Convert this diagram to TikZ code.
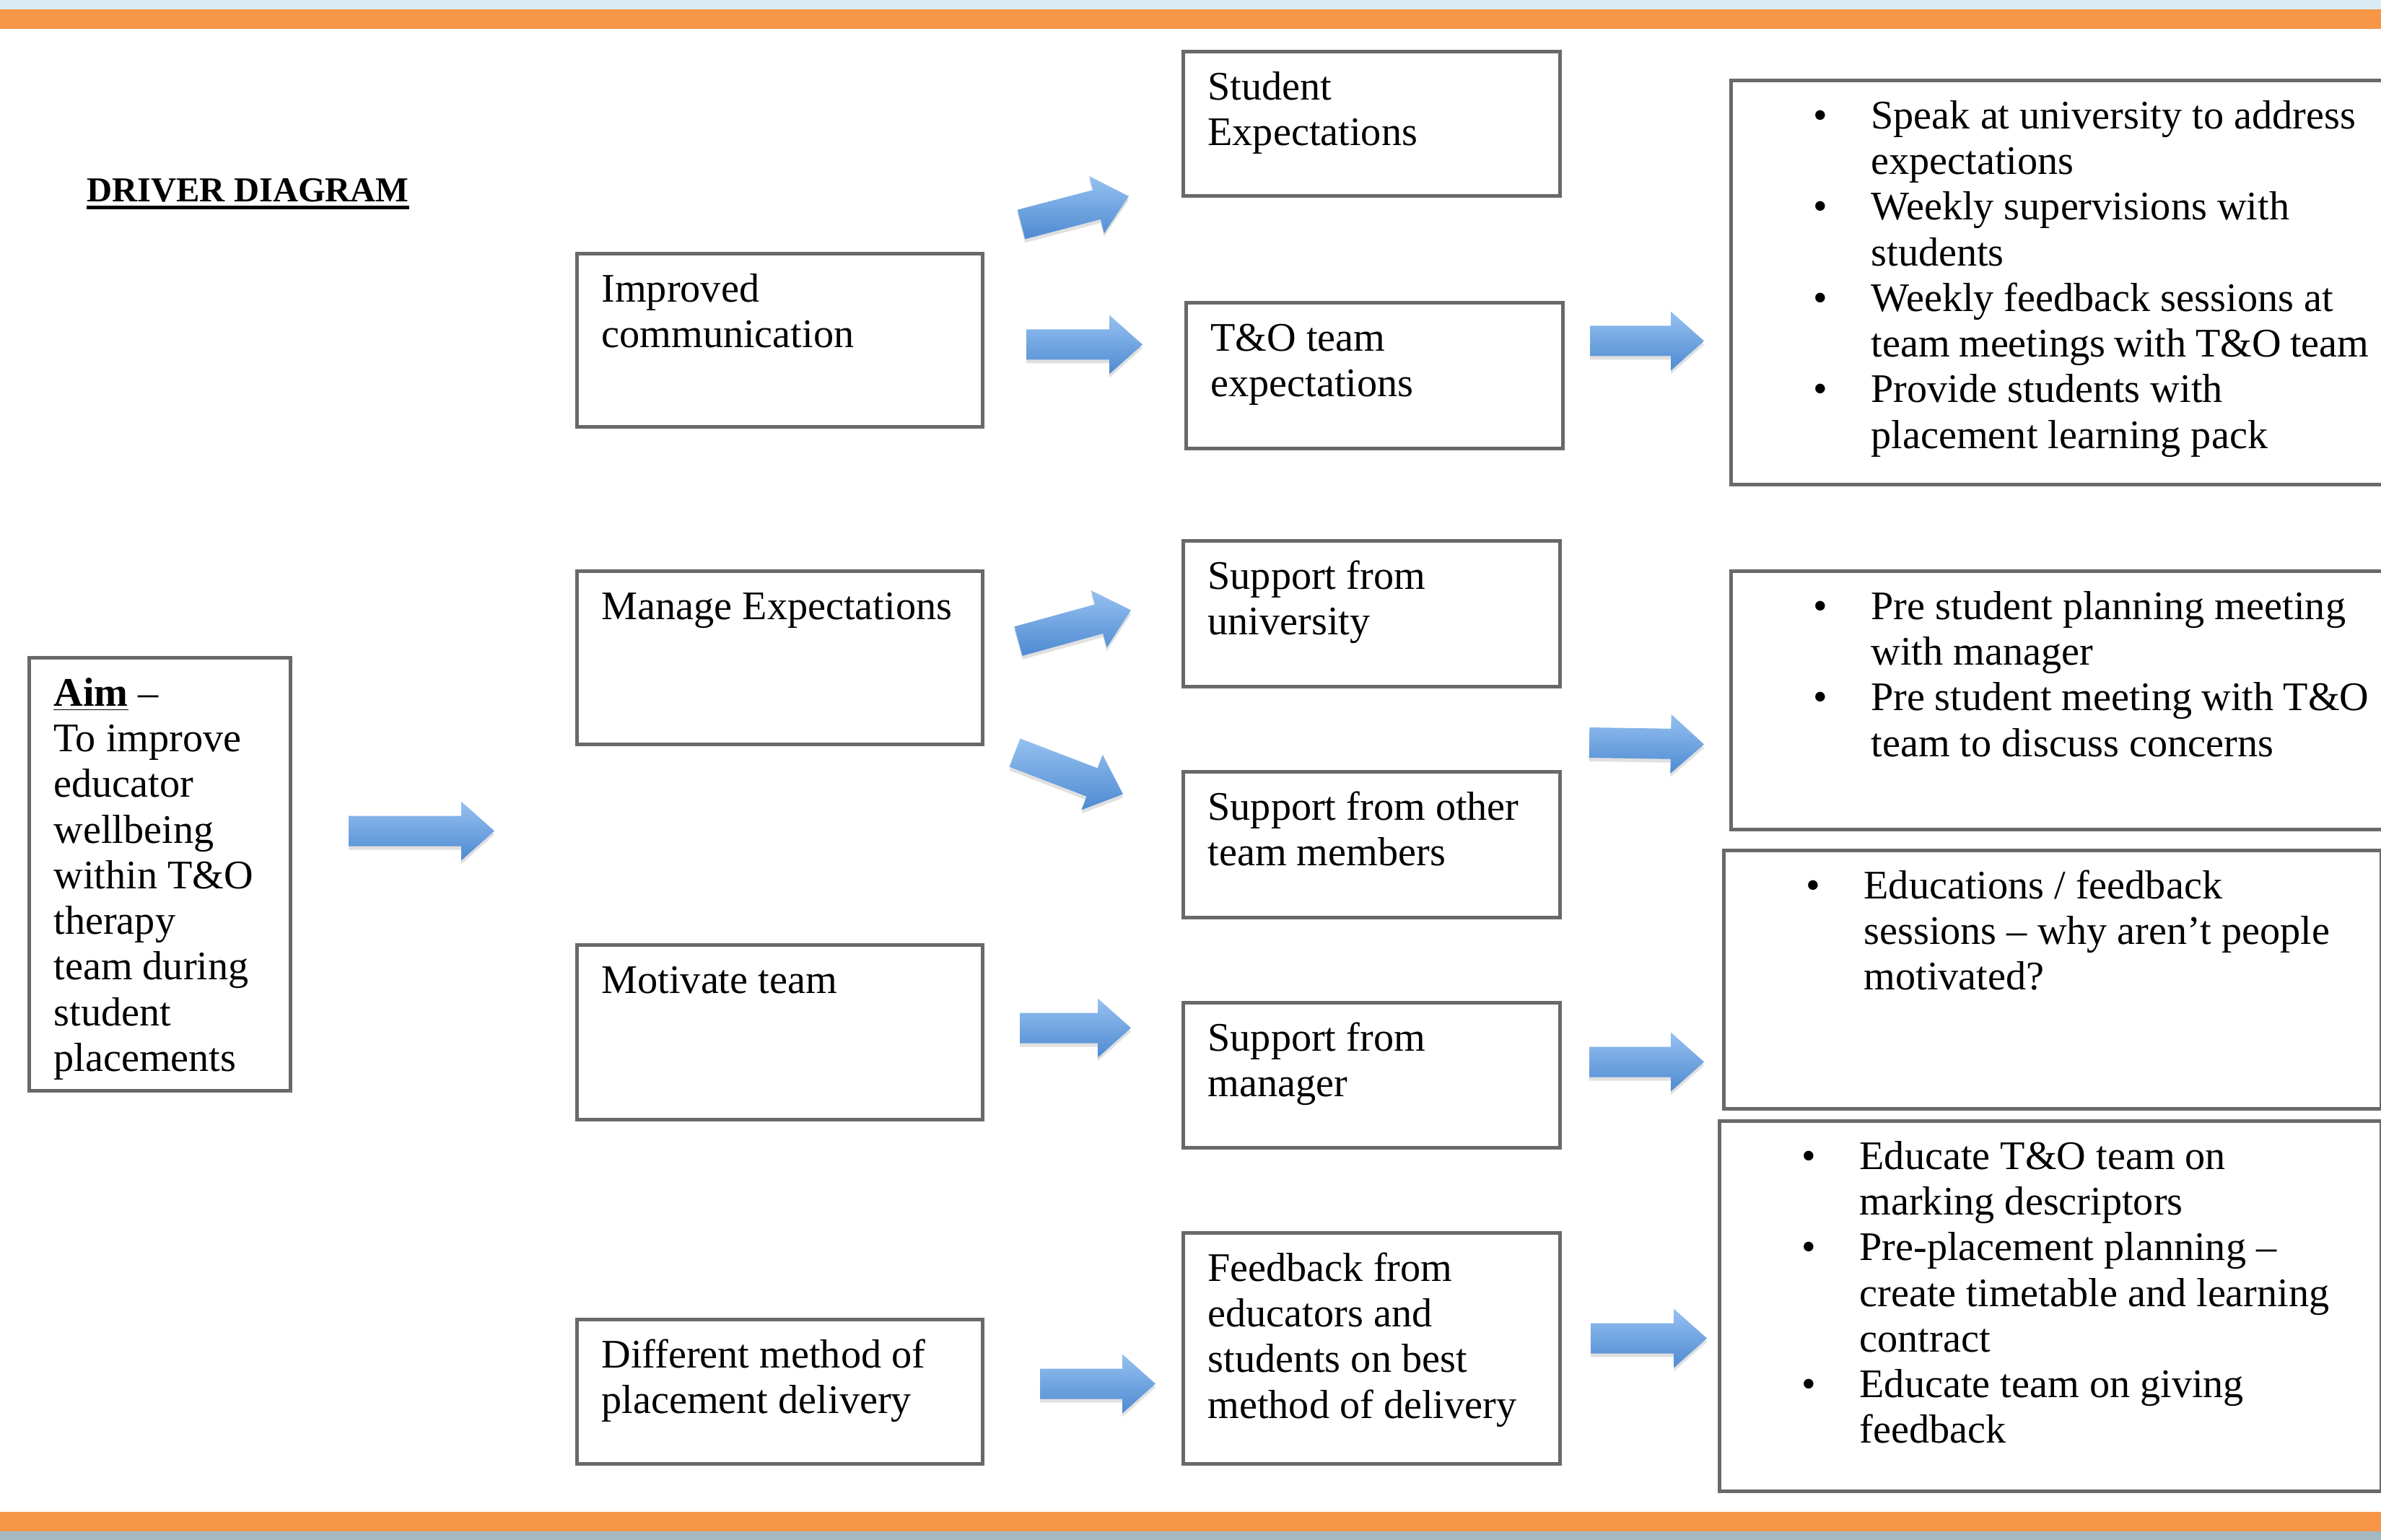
\documentclass[tikz,border=0pt]{standalone}
\usepackage{fontspec}
\setmainfont{Liberation Serif}
\usepackage{enumitem}
\usetikzlibrary{calc,shadows}

\definecolor{bandorange}{RGB}{247,150,70}
\definecolor{bandblue}{RGB}{218,235,243}
\definecolor{bandgrey}{RGB}{165,185,195}
\definecolor{boxgray}{RGB}{105,105,105}
\definecolor{arrowtop}{RGB}{150,193,240}
\definecolor{arrowbot}{RGB}{78,138,210}

\setlist[itemize]{label={\strut\textbullet}, leftmargin=1.60cm, labelsep=0.6cm, itemsep=0pt, topsep=0pt, parsep=0pt, partopsep=0pt}

\newcommand{\boxtext}[3]{\parbox[t][#2cm][t]{#1cm}{\raggedright\strut#3}}
\newcommand{\listtext}[3]{\parbox[t][#2cm][t]{#1cm}{\raggedright\begin{itemize}#3\end{itemize}}}
\newcommand{\bigarrow}[2]{%
  \coordinate (ba) at #1;
  \coordinate (bb) at #2;
  \coordinate (bc) at ($(bb)!0.46cm!(ba)$);
  \path[arrowfill] ($(ba)!0.21cm!90:(bb)$) -- ($(bc)!0.21cm!-90:(ba)$) -- ($(bc)!0.41cm!-90:(ba)$) -- (bb)
    -- ($(bc)!0.41cm!90:(ba)$) -- ($(bc)!0.21cm!90:(ba)$) -- ($(ba)!0.21cm!-90:(bb)$) -- cycle;
}

\begin{document}
\begin{tikzpicture}[
    dbox/.style={draw=boxgray, line width=0.05cm, anchor=north west, inner xsep=0.34cm, inner ysep=0.226cm, font=\fontsize{16}{18}\selectfont},
    arrowfill/.style={top color=arrowtop, bottom color=arrowbot, drop shadow={shadow xshift=0cm, shadow yshift=-0.05cm, fill=black!30, opacity=0.4}}
  ]
  \useasboundingbox (0,0) rectangle (32.99,-21.34);

  % bands
  \fill[bandblue] (0,0) rectangle (32.99,-0.13);
  \fill[bandorange] (0,-0.13) rectangle (32.99,-0.40);
  \fill[bandorange] (0,-20.95) rectangle (32.99,-21.22);
  \fill[bandgrey] (0,-21.22) rectangle (32.99,-21.34);

  % title
  \node[anchor=base west, inner sep=0pt, font=\fontsize{13.8}{16}\selectfont\bfseries] (title) at (1.20,-2.80) {DRIVER DIAGRAM};
  \draw[line width=0.05cm] ([yshift=-0.08cm]title.base west) -- ([yshift=-0.08cm]title.base east);

  % aim
  \node[dbox] (aim) at (0.38,-9.09) {\boxtext{2.94}{5.548}{\underline{\textbf{Aim}} --\\To improve\\educator\\wellbeing\\within T\&O\\therapy\\team during\\student\\placements}};

  % primary drivers
  \node[dbox] (comm) at (7.97,-3.49) {\boxtext{4.94}{1.948}{Improved\\communication}};
  \node[dbox] (manage) at (7.97,-7.89) {\boxtext{4.94}{1.948}{Manage Expectations}};
  \node[dbox] (motiv) at (7.97,-13.07) {\boxtext{4.94}{1.968}{Motivate team}};
  \node[dbox] (diffm) at (7.97,-18.26) {\boxtext{4.94}{1.548}{Different method of\\placement delivery}};

  % secondary drivers
  \node[dbox] (stuexp) at (16.37,-0.69) {\boxtext{4.54}{1.548}{Student\\Expectations}};
  \node[dbox] (toexp) at (16.41,-4.17) {\boxtext{4.54}{1.568}{T\&O team\\expectations}};
  \node[dbox] (supuni) at (16.37,-7.47) {\boxtext{4.54}{1.568}{Support from\\university}};
  \node[dbox] (supoth) at (16.37,-10.67) {\boxtext{4.54}{1.568}{Support from other\\team members}};
  \node[dbox] (supman) at (16.37,-13.87) {\boxtext{4.54}{1.558}{Support from\\manager}};
  \node[dbox] (feedb) at (16.37,-17.06) {\boxtext{4.54}{2.748}{Feedback from\\educators and\\students on best\\method of delivery}};

  % change ideas
  \node[dbox] (ideaA) at (23.96,-1.09) {\listtext{8.50}{5.148}{%
    \item Speak at university to address\\expectations
    \item Weekly supervisions with\\students
    \item Weekly feedback sessions at\\team meetings with T\&O team
    \item Provide students with\\placement learning pack}};
  \node[dbox] (ideaB) at (23.96,-7.89) {\listtext{8.50}{3.128}{%
    \item Pre student planning meeting\\with manager
    \item Pre student meeting with T\&O\\team to discuss concerns}};
  \node[dbox] (ideaC) at (23.86,-11.76) {\listtext{8.43}{3.128}{%
    \item Educations / feedback\\sessions -- why aren’t people\\motivated?}};
  \node[dbox] (ideaD) at (23.80,-15.51) {\listtext{8.49}{4.678}{%
    \item Educate T\&O team on\\marking descriptors
    \item Pre-placement planning --\\create timetable and learning\\contract
    \item Educate team on giving\\feedback}};

  % arrows
  \bigarrow{([shift={(0.78,0.60)}]aim.east)}{([shift={(2.80,0.60)}]aim.east)}
  \bigarrow{([shift={(0.51,0.38)}]comm.north east)}{([shift={(-0.73,0.02)}]stuexp.south west)}
  \bigarrow{([shift={(0.58,-0.06)}]comm.east)}{([shift={(-0.58,0.43)}]toexp.west)}
  \bigarrow{([shift={(0.47,0.23)}]manage.east)}{([shift={(-0.70,0.05)}]supuni.west)}
  \bigarrow{([shift={(0.42,-0.09)}]manage.south east)}{([shift={(-0.81,0.70)}]supoth.west)}
  \bigarrow{([shift={(0.49,0.06)}]motiv.east)}{([shift={(-0.70,0.655)}]supman.west)}
  \bigarrow{([shift={(0.77,0.11)}]diffm.east)}{([shift={(-0.36,-0.49)}]feedb.west)}
  \bigarrow{([shift={(0.35,0.48)}]toexp.east)}{([shift={(-0.35,-0.81)}]ideaA.west)}
  \bigarrow{([shift={(0.38,0.38)}]supoth.north east)}{([shift={(-0.35,-0.61)}]ideaB.west)}
  \bigarrow{([shift={(0.38,0.185)}]supman.east)}{([shift={(-0.25,-1.14)}]ideaC.west)}
  \bigarrow{([shift={(0.40,0.14)}]feedb.east)}{([shift={(-0.15,-0.445)}]ideaD.west)}
\end{tikzpicture}
\end{document}
